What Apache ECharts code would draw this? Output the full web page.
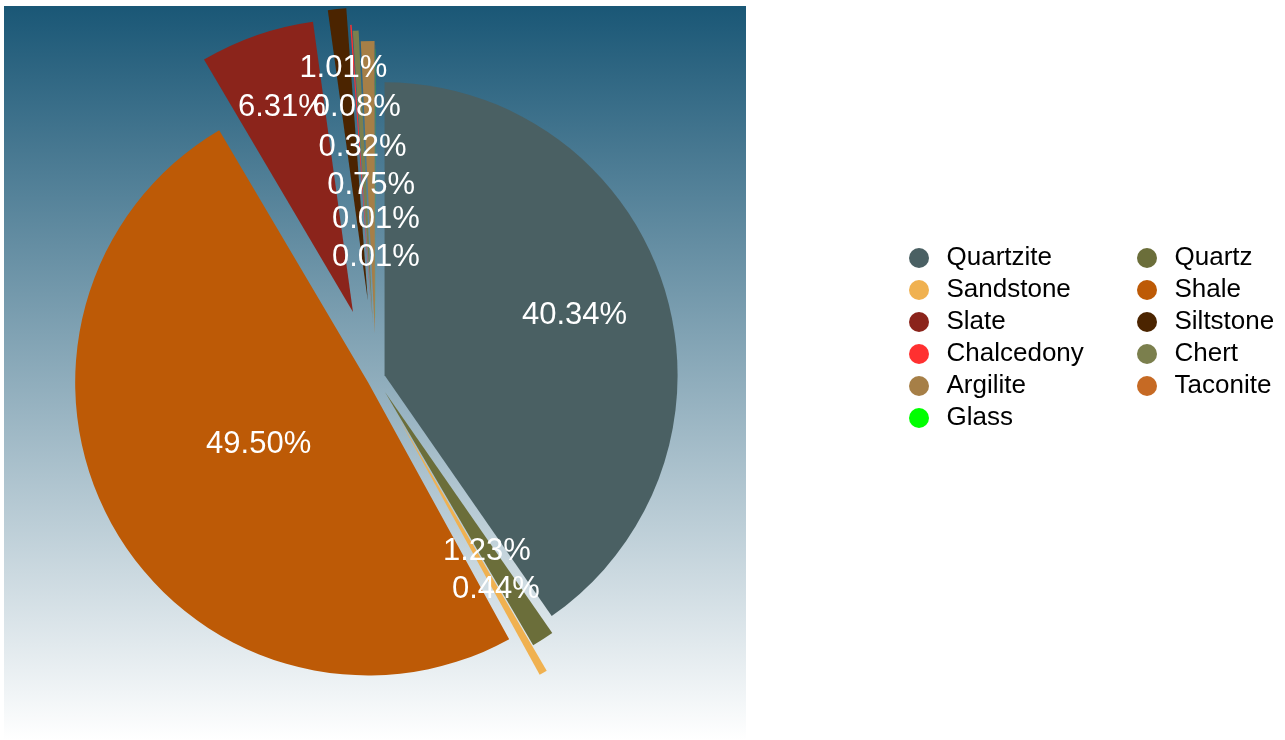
<!DOCTYPE html>
<html>
<head>
<meta charset="utf-8">
<title>Rock types</title>
<script src="https://cdn.jsdelivr.net/npm/echarts@6/dist/echarts.min.js"></script>
<style>
  html, body { margin: 0; padding: 0; background: #ffffff; }
  #chart { width: 1285px; height: 740px; }
</style>
</head>
<body>
<div id="chart"></div>
<script>
// Share of each rock type (percent), in drawing order clockwise from 12 o'clock
const rockTypes = ['Quartzite', 'Quartz', 'Sandstone', 'Shale', 'Slate', 'Siltstone',
                   'Chalcedony', 'Chert', 'Argilite', 'Taconite', 'Glass'];
const sharePercent = [40.34, 1.23, 0.44, 49.50, 6.31, 1.01, 0.08, 0.32, 0.75, 0.01, 0.01];

// Styling per slice
const sliceColors = ['#4a6063', '#6b6e3a', '#f0b150', '#bd5a06', '#8b241b', '#4b2400',
                     '#ff3030', '#7b7f4d', '#a67f47', '#c66a24', '#00ff00'];
const explodeOffset = [9, 17, 46, 9, 70, 78, 61, 55, 44, 40, 36];   // px pulled out
const labelRadius = [196, 186, 194, 123, 213, 230, 207, 173, 146, 116, 82]; // px from slice tip

const PIE_CENTER = [376, 378];
const PIE_RADIUS = 293;
const FONT = '"Liberation Sans", Helvetica, Arial, sans-serif';

const total = sharePercent.reduce((a, b) => a + b, 0);
// mid angle of each slice, clockwise from 12 o'clock, radians
let running = 0;
const midAngle = sharePercent.map(v => {
  const m = (running + v / 2) / total * 2 * Math.PI;
  running += v;
  return m;
});

function shiftedCenter(i) {
  return [
    PIE_CENTER[0] + explodeOffset[i] * Math.sin(midAngle[i]),
    PIE_CENTER[1] - explodeOffset[i] * Math.cos(midAngle[i])
  ];
}

// Full data set, where only the active slice is painted (or labelled)
function sliceData(active, forLabel) {
  return rockTypes.map((name, i) => ({
    name: name,
    value: sharePercent[i],
    itemStyle: {
      color: (i === active && !forLabel) ? sliceColors[i] : 'rgba(0,0,0,0)',
      borderWidth: 0
    },
    label: { show: forLabel && i === active }
  }));
}

const common = {
  type: 'pie',
  startAngle: 90,
  clockwise: true,
  silent: true,
  animation: false,
  avoidLabelOverlap: false,
  minShowLabelAngle: 0,
  emphasis: { disabled: true },
  labelLine: { show: false },
  labelLayout: { hideOverlap: false }
};

const sliceSeries = rockTypes.map((name, i) => Object.assign({}, common, {
  id: 'slice-' + i,
  center: shiftedCenter(i),
  radius: [0, PIE_RADIUS],
  z: 2,
  label: { show: false },
  data: sliceData(i, false)
}));

const labelSeries = rockTypes.map((name, i) => Object.assign({}, common, {
  id: 'label-' + i,
  center: shiftedCenter(i),
  radius: [labelRadius[i] - 2, labelRadius[i] + 2],
  z: 5,
  label: {
    show: true,
    position: 'inside',
    color: '#ffffff',
    fontSize: 31,
    fontFamily: FONT,
    formatter: p => p.value.toFixed(2) + '%'
  },
  data: sliceData(i, true)
}));

function legendColumn(indices, left) {
  return {
    orient: 'vertical',
    left: left,
    top: 240,
    icon: 'circle',
    itemWidth: 45,
    itemHeight: 20,
    itemGap: 6,
    selectedMode: false,
    textStyle: { fontSize: 26, fontFamily: FONT, color: '#000000', lineHeight: 26 },
    data: indices.map(i => ({ name: rockTypes[i], itemStyle: { color: sliceColors[i], opacity: 1 } }))
  };
}

const chart = echarts.init(document.getElementById('chart'), null, { renderer: 'canvas' });
chart.setOption({
  animation: false,
  graphic: [{
    type: 'rect',
    z: -10,
    silent: true,
    shape: { x: 4, y: 6, width: 742, height: 734 },
    style: {
      fill: new echarts.graphic.LinearGradient(0, 0, 0, 1, [
        { offset: 0, color: '#1a5776' },
        { offset: 1, color: '#ffffff' }
      ])
    }
  }],
  legend: [
    legendColumn([0, 2, 4, 6, 8, 10], 904),
    legendColumn([1, 3, 5, 7, 9], 1132)
  ],
  series: sliceSeries.concat(labelSeries)
});
</script>
</body>
</html>
